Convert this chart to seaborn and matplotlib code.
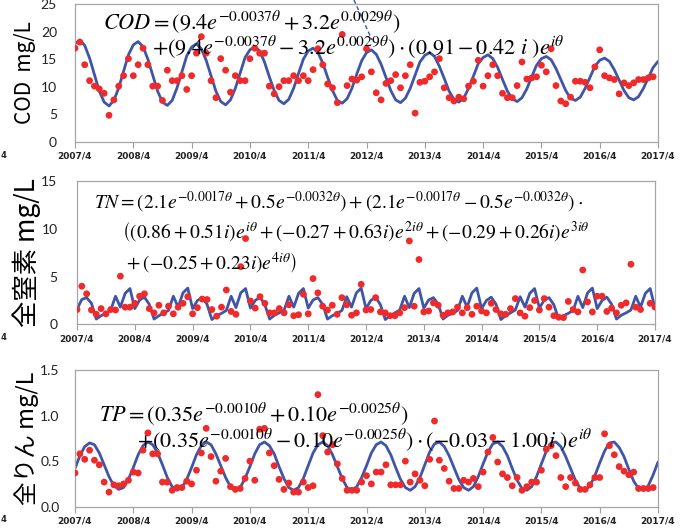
import numpy as np
import pandas as pd
import seaborn as sns
import matplotlib.pyplot as plt
from matplotlib.lines import Line2D

W, H = 686, 528
BLUE = "#3F55A8"
RED = "#F02A2A"
nan = np.nan

# x axis: monthly index from 2007/4 (0) to 2017/4 (120)
year_labels = ["2007/4", "2008/4", "2009/4", "2010/4", "2011/4", "2012/4",
               "2013/4", "2014/4", "2015/4", "2016/4", "2017/4"]

# COD (mg/L)
cod_obs = [17.0, 18.1, 14.0, 11.1, 10.1, 9.6, 8.8, 4.8, 7.6, 10.1, 12.0, 15.1,
           12.0, 14.0, 17.0, 14.0, 10.1, 10.1, 7.5, 13.0, 11.1, 11.1, 12.0, 9.5,
           12.0, 16.1, 19.1, 16.1, 11.1, 8.0, 15.1, 13.0, 9.0, 12.0, 11.1, 11.1,
           15.1, 17.0, 16.1, 16.1, 10.1, 8.7, 10.0, 11.1, 11.1, 12.0, 11.1, 12.0,
           11.1, 13.1, 16.9, 14.0, 10.5, 9.8, 7.1, 19.5, 10.2, 11.4, 11.2, 11.8,
           16.9, 12.7, 8.9, 7.6, 10.6, 11.1, 12.2, 9.8, 12.0, 14.0, 5.2, 10.8,
           11.0, 11.8, 12.7, 15.1, 9.8, 8.0, 7.4, 8.1, 7.8, 10.1, 11.0, 14.8,
           10.1, 12.0, 14.0, 12.0, 8.8, 8.0, 8.0, 10.2, 14.5, 11.4, 11.6, 11.8,
           13.9, 12.7, 16.9, 10.2, 7.4, 6.9, 8.1, 11.0, 11.0, 10.8, 9.8, 13.6,
           16.7, 12.0, 11.6, 11.3, 8.7, 10.7, 10.2, 10.7, 11.3, 11.3, 11.6, 11.8,
           nan]
cod_model = [17.8, 18.5, 17.5, 15.2, 12.2, 9.2, 7.2, 6.5, 7.5, 9.8, 12.8, 15.8,
             17.6, 18.2, 17.3, 15.0, 12.1, 9.2, 7.2, 6.6, 7.5, 9.8, 12.7, 15.6,
             17.2, 17.8, 16.9, 14.8, 12.0, 9.2, 7.3, 6.7, 7.6, 9.7, 12.5, 15.3,
             16.7, 17.3, 16.5, 14.5, 11.8, 9.3, 7.5, 6.9, 7.7, 9.7, 12.4, 15.0,
             16.5, 17.0, 16.2, 14.3, 11.7, 9.3, 7.5, 7.0, 7.8, 9.7, 12.3, 14.7,
             16.2, 16.7, 15.9, 14.1, 11.7, 9.3, 7.6, 7.1, 7.9, 9.7, 12.1, 14.5,
             15.7, 16.2, 15.5, 13.7, 11.5, 9.2, 7.7, 7.2, 7.9, 9.7, 11.9, 14.2,
             15.3, 15.8, 15.1, 13.5, 11.3, 9.2, 7.8, 7.3, 8.0, 9.6, 11.8, 13.9,
             15.1, 15.5, 14.9, 13.3, 11.3, 9.3, 7.9, 7.5, 8.1, 9.7, 11.7, 13.7,
             14.8, 15.2, 14.6, 13.1, 11.2, 9.3, 8.0, 7.6, 8.2, 9.7, 11.6, 13.5,
             14.6]

# 全窒素 TN (mg/L)
tn_obs = [1.55, 4.0, 3.2, 1.5, 1.05, 1.65, 1.1, 1.55, 1.5, 5.05, 1.8, 1.8,
          2.2, 2.95, 3.2, 1.65, 1.2, 2.0, 1.2, 1.9, 1.1, 1.8, 2.2, 2.9,
          1.1, 1.75, 2.65, 2.6, 1.55, 0.85, 1.8, 3.6, 1.35, 1.05, 6.05, 9.0,
          2.45, 1.7, 2.9, 2.2, 1.2, 1.2, 1.65, 1.2, 2.05, 0.9, 1.0, 3.15,
          1.1, 4.8, 3.3, 1.9, 1.5, 2.0, 1.05, 2.8, 2.05, 0.95, 1.2, 4.2,
          1.5, 1.55, 2.8, 1.3, 1.2, 0.9, 0.9, 1.2, 1.75, 8.75, 1.9, 6.8,
          1.3, 1.4, 2.25, 2.0, 0.95, 1.2, 1.3, 1.8, 1.2, 1.75, 1.05, 1.9,
          1.4, 1.2, 2.2, 1.55, 1.1, 1.05, 1.65, 2.7, 1.2, 0.85, 1.75, 2.5,
          1.5, 2.7, 1.8, 0.9, 0.75, 0.7, 2.4, 1.55, 1.3, 5.7, 2.35, 1.3,
          2.95, 2.95, 1.35, 1.7, 1.2, 2.0, 2.25, 6.3, 1.8, 1.55, nan, 2.2,
          1.8]
tn_model = [1.6, 2.6, 2.8, 2.2, 0.55, 0.9, 1.15, 1.5, 2.95, 1.8, 3.25, 3.75,
            1.65, 2.55, 2.85, 2.1, 0.55, 0.9, 1.2, 1.45, 2.95, 1.8, 3.3, 3.8,
            1.65, 2.5, 2.8, 2.1, 0.5, 0.9, 1.15, 1.45, 2.95, 1.75, 3.3, 3.75,
            1.7, 2.5, 2.85, 2.05, 0.55, 0.95, 1.2, 1.5, 2.95, 1.8, 3.25, 3.75,
            1.7, 2.55, 2.8, 2.1, 0.55, 0.9, 1.15, 1.45, 2.9, 1.8, 3.3, 3.8,
            1.65, 2.5, 2.85, 2.05, 0.5, 0.9, 1.2, 1.5, 2.95, 1.75, 3.25, 3.75,
            1.7, 2.55, 2.8, 2.1, 0.55, 0.95, 1.15, 1.45, 2.95, 1.8, 3.3, 3.8,
            1.65, 2.5, 2.85, 2.1, 0.5, 0.9, 1.2, 1.5, 2.9, 1.8, 3.25, 3.75,
            1.7, 2.55, 2.8, 2.05, 0.55, 0.9, 1.15, 1.45, 2.95, 1.75, 3.3, 3.8,
            1.65, 2.5, 2.85, 2.1, 0.55, 0.95, 1.2, 1.5, 2.95, 1.8, 3.25, 3.75,
            1.7]

# 全りん TP (mg/L)
tp_obs = [0.37, 0.58, 0.52, 0.62, 0.51, 0.46, 0.27, 0.16, 0.24, 0.23, 0.25, 0.29,
          0.38, 0.37, 0.62, 0.81, 0.58, 0.58, 0.27, 0.27, 0.18, 0.21, 0.21, 0.28,
          0.25, 0.40, 0.59, 0.86, 0.55, 0.28, 0.39, 0.53, 0.22, 0.19, 0.20, 0.31,
          0.50, 0.29, 0.85, 0.86, 0.59, 0.45, 0.30, 0.19, 0.26, 0.16, 0.16, 0.27,
          0.21, 0.23, 1.23, 0.78, 0.60, 0.68, 0.47, 0.31, 0.18, 0.18, 0.18, 0.27,
          0.34, 0.25, 0.38, 0.38, 0.46, 0.24, 0.24, 0.24, 0.50, 0.27, 0.36, 0.29,
          0.23, 0.52, 0.94, 0.51, 0.42, 0.28, 0.20, 0.20, 0.29, 0.27, 0.31, 0.22,
          0.38, 0.60, 0.76, 0.49, 0.36, 0.32, 0.23, 0.32, 0.18, 0.22, 0.27, 0.27,
          0.40, 0.63, 0.67, 0.56, 0.32, 0.22, 0.32, 0.26, 0.19, 0.19, 0.24, 0.32,
          0.32, 0.80, 0.67, 0.57, 0.44, 0.39, 0.35, 0.38, 0.20, 0.20, 0.20, 0.21,
          nan]
tp_model = [0.42, 0.56, 0.66, 0.70, 0.68, 0.59, 0.46, 0.33, 0.23, 0.19, 0.21, 0.30,
            0.43, 0.57, 0.67, 0.71, 0.68, 0.59, 0.46, 0.32, 0.22, 0.18, 0.21, 0.30,
            0.43, 0.57, 0.67, 0.71, 0.68, 0.58, 0.45, 0.32, 0.22, 0.18, 0.21, 0.31,
            0.44, 0.58, 0.68, 0.71, 0.67, 0.58, 0.44, 0.31, 0.21, 0.18, 0.21, 0.31,
            0.45, 0.59, 0.68, 0.71, 0.67, 0.57, 0.44, 0.31, 0.21, 0.18, 0.22, 0.32,
            0.45, 0.59, 0.68, 0.71, 0.67, 0.57, 0.43, 0.30, 0.21, 0.18, 0.22, 0.32,
            0.46, 0.60, 0.69, 0.71, 0.66, 0.56, 0.43, 0.30, 0.21, 0.18, 0.22, 0.33,
            0.47, 0.60, 0.69, 0.71, 0.66, 0.56, 0.42, 0.29, 0.20, 0.18, 0.22, 0.33,
            0.47, 0.61, 0.70, 0.71, 0.66, 0.55, 0.42, 0.29, 0.20, 0.18, 0.23, 0.34,
            0.48, 0.61, 0.70, 0.71, 0.65, 0.55, 0.41, 0.28, 0.20, 0.18, 0.23, 0.35,
            0.49]

months = np.arange(len(cod_model))

panels = [
    dict(obs=cod_obs, model=cod_model, ylim=(0, 25), yticks=[0, 5, 10, 15, 20, 25],
         yfmt="{:.0f}", ylabel="COD  mg/L", rect=(75, 4.2, 658, 141.7), lab_x=25, lab_fs=15, ypad=13),
    dict(obs=tn_obs, model=tn_model, ylim=(0, 15), yticks=[0, 5, 10, 15],
         yfmt="{:.0f}", ylabel="全窒素 mg/L", rect=(77, 181.4, 655, 324.3), lab_x=27, lab_fs=19, ypad=14),
    dict(obs=tp_obs, model=tp_model, ylim=(0, 1.5), yticks=[0, 0.5, 1.0, 1.5],
         yfmt="{:.1f}", ylabel="全りん mg/L", rect=(75, 370, 658, 506.7), lab_x=27, lab_fs=17, ypad=11),
]

sns.set_theme(style="white")
plt.rcParams["font.family"] = ["Lato", "Noto Sans CJK JP", "DejaVu Sans"]
plt.rcParams["mathtext.fontset"] = "stix"

fig = plt.figure(figsize=(W / 100, H / 100), dpi=100)

axes = []
for p in panels:
    x0, y0, x1, y1 = p["rect"]
    ax = fig.add_axes([x0 / W, 1 - y1 / H, (x1 - x0) / W, (y1 - y0) / H])
    df = pd.DataFrame({"month": months, "obs": p["obs"], "model": p["model"]})
    sns.lineplot(data=df, x="month", y="model", ax=ax, color=BLUE, lw=2.0)
    sns.scatterplot(data=df, x="month", y="obs", ax=ax, color=RED, s=24,
                    edgecolor="none", linewidth=0, zorder=3)
    ax.set_xlim(0, 120)
    ax.set_ylim(*p["ylim"])
    ax.set_xticks(np.arange(0, 121, 12))
    ax.set_xticklabels(year_labels, fontsize=6.5, fontweight="bold",
                       family="DejaVu Sans", color="#222222")
    ax.set_yticks(p["yticks"])
    ax.set_yticklabels([p["yfmt"].format(v) for v in p["yticks"]], fontsize=10, color="#222222")
    ax.tick_params(axis="x", length=4, width=0.8, color="#A0A0A0", pad=3, bottom=True)
    ax.tick_params(axis="y", length=0, pad=p["ypad"])
    for s in ax.spines.values():
        s.set_color("#A6A6A6")
        s.set_linewidth(0.9)
    ax.set_xlabel("")
    ax.set_ylabel("")
    cy = (y0 + y1) / 2
    fig.text(p["lab_x"] / W, 1 - cy / H, p["ylabel"], rotation=90, ha="center", va="center",
             fontsize=p["lab_fs"], family=["Noto Sans CJK JP", "DejaVu Sans"], color="black")
    axes.append(ax)

# formulas (x, y in pixels from top-left, font size)
formulas = [
    (103, 22, 16, r"$COD=\left(9.4e^{-0.0037\theta}+3.2e^{0.0029\theta}\right)$"),
    (152, 47, 16, r"$+\left(9.4e^{-0.0037\theta}-3.2e^{0.0029\theta}\right)\cdot(0.91-0.42\ i\ )e^{i\theta}$"),
    (94, 202, 14, r"$TN=\left(2.1e^{-0.0017\theta}+0.5e^{-0.0032\theta}\right)+\left(2.1e^{-0.0017\theta}-0.5e^{-0.0032\theta}\right)\cdot$"),
    (122, 232, 14, r"$\left((0.86+0.51i)e^{i\theta}+(-0.27+0.63i)e^{2i\theta}+(-0.29+0.26i)e^{3i\theta}\right.$"),
    (124, 263, 14, r"$\left.+(-0.25+0.23i)e^{4i\theta}\right)$"),
    (99, 414, 16, r"$TP=\left(0.35e^{-0.0010\theta}+0.10e^{-0.0025\theta}\right)$"),
    (137, 440, 16, r"$+\left(0.35e^{-0.0010\theta}-0.10e^{-0.0025\theta}\right)\cdot(-0.03-1.00i\ )e^{i\theta}$"),
]
for fx, fy, fs, s in formulas:
    fig.text(fx / W, 1 - fy / H, s, fontsize=fs, ha="left", va="center", color="black", zorder=5)

# stray dashed leader line at top of the COD panel
fig.add_artist(Line2D([354 / W, 372 / W], [1.0, 1 - 40 / H], color=BLUE, lw=1.0, ls=(0, (3, 2))))

# cut-off tick labels at the left edge
for ty in (155, 337, 520):
    fig.text(0.5 / W, 1 - ty / H, "4", fontsize=6, fontweight="bold", family="DejaVu Sans",
             ha="left", va="center", color="#222222")

fig.savefig("out.png", dpi=100)
